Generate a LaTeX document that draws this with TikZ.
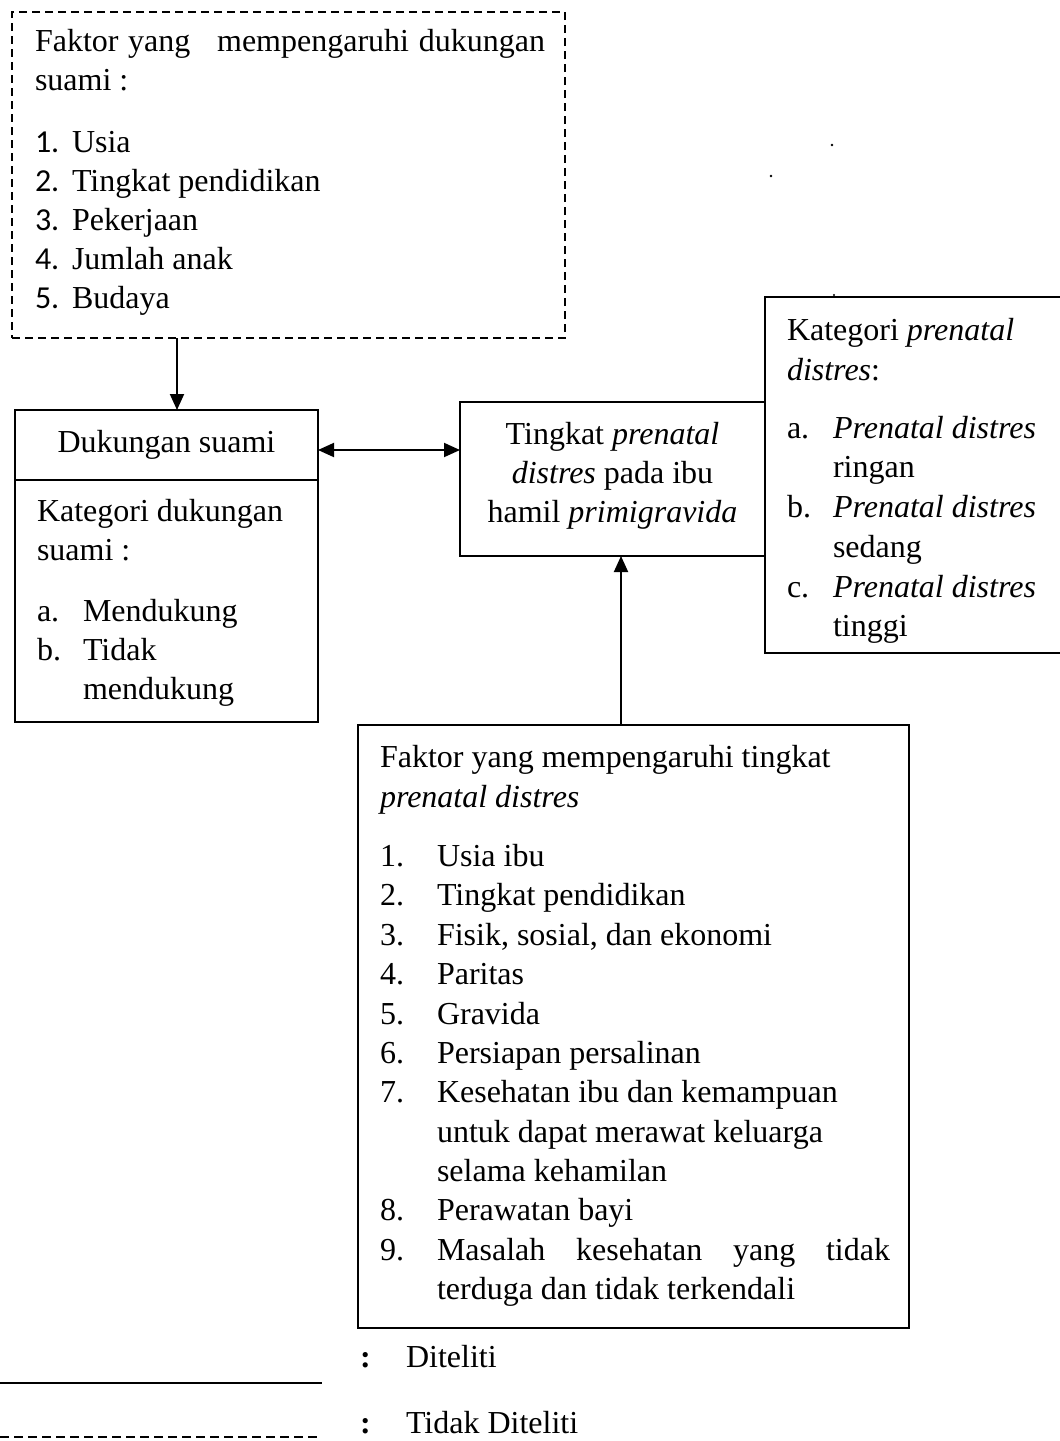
\documentclass[tikz,border=0pt]{standalone}
\usepackage{fontspec}
\setmainfont{Liberation Serif}
\newfontfamily\numfont{Carlito}
\usetikzlibrary{arrows.meta}
\begin{document}
\begin{tikzpicture}[x=1pt,y=-1pt,
  every node/.style={font=\fontsize{32pt}{39.5pt}\selectfont},
  txt/.style={anchor=base west,inner sep=0pt,outer sep=0pt},
  ctxt/.style={anchor=base,inner sep=0pt,outer sep=0pt},
  boxstyle/.style={draw,line width=1.7pt,inner sep=0pt,outer sep=0pt},
  dashbox/.style={boxstyle,dash pattern=on 8pt off 5pt},
  conn/.style={line width=1.9pt,-{Triangle[length=16pt,width=14pt]}},
  dconn/.style={line width=1.9pt,{Triangle[length=16pt,width=14pt]}-{Triangle[length=16pt,width=14pt]}}
]
\clip (0,0) rectangle (1060,1441);
\fill[white] (0,0) rectangle (1060,1441);

% boxes
\node[dashbox,minimum width=553pt,minimum height=326pt] (topbox) at (288.5,175) {};
\node[boxstyle,minimum width=303pt,minimum height=312pt] (dukung) at (166.5,566) {};
\node[boxstyle,minimum width=305pt,minimum height=154pt] (tingkat) at (612.5,479) {};
\node[boxstyle,minimum width=305pt,minimum height=356pt] (kategori) at (917.5,475) {};
\node[boxstyle,minimum width=551pt,minimum height=603pt] (faktor) at (633.5,1026.5) {};
\coordinate (divl) at (15,480);
\coordinate (divr) at (318,480);
\draw[line width=1.7pt] (divl) -- (divr);

% top box text
\node[txt] (tb1) at (35,51) {\hbox to 510pt{Faktor\hfill yang\hfill\hspace{9pt} mempengaruhi\hfill dukungan}};
\node[txt] (tb2) at (35,90) {suami :};
\node[txt] (tbn1) at (35,152) {\numfont 1.};
\node[txt] (tbn2) at (35,191) {\numfont 2.};
\node[txt] (tbn3) at (35,230) {\numfont 3.};
\node[txt] (tbn4) at (35,269) {\numfont 4.};
\node[txt] (tbn5) at (35,308) {\numfont 5.};
\node[txt] (tbi1) at (72,152) {Usia};
\node[txt] (tbi2) at (72,191) {Tingkat pendidikan};
\node[txt] (tbi3) at (72,230) {Pekerjaan};
\node[txt] (tbi4) at (72,269) {Jumlah anak};
\node[txt] (tbi5) at (72,308) {Budaya};

% dukungan box text
\node[ctxt] (du0) at (166.5,452) {Dukungan suami};
\node[txt] (du1) at (37,521) {Kategori dukungan};
\node[txt] (du2) at (37,560) {suami :};
\node[txt] (dua) at (37,621) {a.};
\node[txt] (dub) at (37,660) {b.};
\node[txt] (dua1) at (83,621) {Mendukung};
\node[txt] (dub1) at (83,660) {Tidak};
\node[txt] (dub2) at (83,699) {mendukung};

% tingkat box text
\node[ctxt] (ti1) at (612.5,444) {Tingkat \textit{prenatal}};
\node[ctxt] (ti2) at (612.5,483) {\textit{distres} pada ibu};
\node[ctxt] (ti3) at (612.5,522) {hamil \textit{primigravida}};

% kategori box text
\node[txt] (ka1) at (787,340) {Kategori \textit{prenatal}};
\node[txt] (ka2) at (787,380) {\textit{distres}:};
\node[txt] (kaa) at (787,438) {a.};
\node[txt] (kab) at (787,517) {b.};
\node[txt] (kac) at (787,597) {c.};
\node[txt] (kaa1) at (833,438) {\textit{Prenatal distres}};
\node[txt] (kaa2) at (833,477) {ringan};
\node[txt] (kab1) at (833,517) {\textit{Prenatal distres}};
\node[txt] (kab2) at (833,557) {sedang};
\node[txt] (kac1) at (833,597) {\textit{Prenatal distres}};
\node[txt] (kac2) at (833,636) {tinggi};

% faktor box text
\node[txt] (fa1) at (380,767) {Faktor yang mempengaruhi tingkat};
\node[txt] (fa2) at (380,807) {\textit{prenatal distres}};
\node[txt] (fn1) at (380,866) {1.};
\node[txt] (fn2) at (380,905) {2.};
\node[txt] (fn3) at (380,945) {3.};
\node[txt] (fn4) at (380,984) {4.};
\node[txt] (fn5) at (380,1024) {5.};
\node[txt] (fn6) at (380,1063) {6.};
\node[txt] (fn7) at (380,1102) {7.};
\node[txt] (fn8) at (380,1220) {8.};
\node[txt] (fn9) at (380,1260) {9.};
\node[txt] (fi1) at (437,866) {Usia ibu};
\node[txt] (fi2) at (437,905) {Tingkat pendidikan};
\node[txt] (fi3) at (437,945) {Fisik, sosial, dan ekonomi};
\node[txt] (fi4) at (437,984) {Paritas};
\node[txt] (fi5) at (437,1024) {Gravida};
\node[txt] (fi6) at (437,1063) {Persiapan persalinan};
\node[txt] (fi7a) at (437,1102) {Kesehatan ibu dan kemampuan};
\node[txt] (fi7b) at (437,1142) {untuk dapat merawat keluarga};
\node[txt] (fi7c) at (437,1181) {selama kehamilan};
\node[txt] (fi8) at (437,1220) {Perawatan bayi};
\node[txt] (fi9a) at (437,1260) {\hbox to 453pt{Masalah\hfill kesehatan\hfill yang\hfill tidak}};
\node[txt] (fi9b) at (437,1299) {terduga dan tidak terkendali};

% connectors
\coordinate (xa) at (177,0);
\coordinate (ya) at (0,450);
\coordinate (xb) at (621,0);
\draw[conn] (topbox.south -| xa) -- (dukung.north -| xa);
\draw[dconn] (dukung.east |- ya) -- (tingkat.west |- ya);
\draw[conn] (faktor.north -| xb) -- (tingkat.south -| xb);

% stray dots
\fill (832,145) circle (1.3pt);
\fill (771,176) circle (1.3pt);
\fill (834,295) circle (1.2pt);

% legend
\coordinate (l1a) at (0,1383);
\coordinate (l1b) at (322,1383);
\coordinate (l2a) at (0,1437);
\coordinate (l2b) at (320,1437);
\draw[line width=1.7pt] (l1a) -- (l1b);
\draw[line width=1.6pt,dash pattern=on 9pt off 5pt] (l2a) -- (l2b);
\node[txt] (lc1) at (360,1367) {\textbf{:}};
\node[txt] (lt1) at (406,1367) {Diteliti};
\node[txt] (lc2) at (360,1433) {\textbf{:}};
\node[txt] (lt2) at (406,1433) {Tidak Diteliti};
\end{tikzpicture}
\end{document}
